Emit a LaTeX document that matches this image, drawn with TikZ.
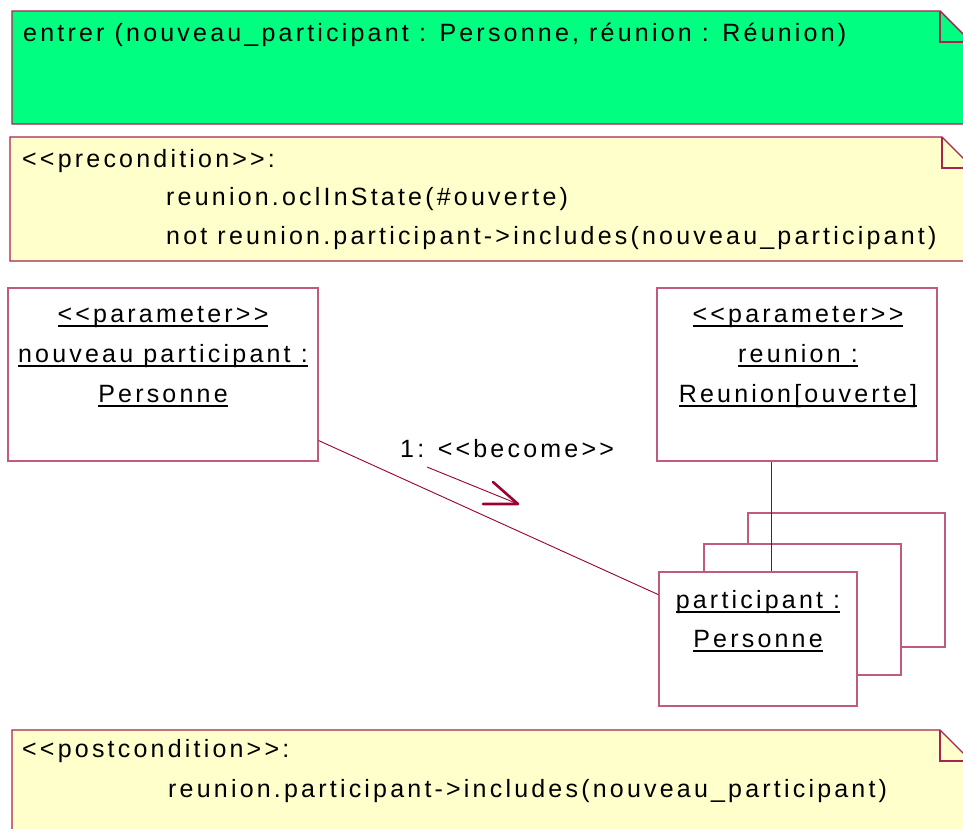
\documentclass[tikz,border=0pt]{standalone}
\usepackage{fontspec}
\newfontfamily\umlfont{Liberation Sans}[LetterSpace=12.8,Ligatures=TeXOff]
\usetikzlibrary{calc}
\definecolor{notegreen}{HTML}{00FF80}
\definecolor{noteyellow}{HTML}{FFFFCC}
\definecolor{noteedge}{HTML}{A8234F}
\definecolor{objedge}{HTML}{C25A80}
\definecolor{linkred}{HTML}{990033}
% underlined object name with a firm rule
\newcommand\ulname[1]{\setbox0\hbox{#1}\rlap{\rule[-4.5pt]{\wd0}{1.5pt}}\box0}
\tikzset{
  txt/.style={font=\umlfont\fontsize{25}{39}\selectfont, inner sep=0pt, text=black},
  notepath/.style={draw=noteedge, line width=1.4pt, line join=miter},
  foldline/.style={draw=noteedge, line width=1.4pt},
  objbox/.style={draw=objedge, line width=1.3pt, fill=white, inner sep=0pt},
  link/.style={draw=linkred, line width=0.9pt},
  barb/.style={draw=linkred, line width=2.6pt, line cap=round, line join=round}
}
\begin{document}
\begin{tikzpicture}[x=1pt,y=-1pt]
\useasboundingbox (0,0) rectangle (963,828);
\clip (0,0) rectangle (963,828);
\fill[white] (0,0) rectangle (963,828);

% operation note
\path[notepath, fill=notegreen] (12,11) -- (940,11) -- (970,41) -- (970,124) -- (12,124) -- cycle;
\path[foldline] (940,11) -- (940,42) -- (970,42);
\node[txt, anchor=base west] (oper) at (23,41) {entrer (nouveau\_participant : Personne, réunion : Réunion)};

% precondition note
\path[notepath, fill=noteyellow] (10,137) -- (942,137) -- (972,167) -- (972,261) -- (10,261) -- cycle;
\path[foldline] (942,137) -- (942,168) -- (972,168);
\node[txt, anchor=base west] (pre1) at (22,167) {<<precondition>>:};
\node[txt, anchor=base west] (pre2) at (166,205) {reunion.oclInState(\#ouverte)};
\node[txt, anchor=base west] (pre3) at (166,244) {not reunion.participant->includes(nouveau\_participant)};

% postcondition note
\path[notepath, fill=noteyellow] (12,730) -- (940,730) -- (970,760) -- (970,850) -- (12,850) -- cycle;
\path[foldline] (940,730) -- (940,761) -- (970,761);
\node[txt, anchor=base west] (post1) at (22,757) {<<postcondition>>:};
\node[txt, anchor=base west] (post2) at (168,797) {reunion.participant->includes(nouveau\_participant)};

% parameter objects
\node[objbox, minimum width=310pt, minimum height=173pt] (pa) at (163,374.5) {};
\node[txt, anchor=base] (pa1) at (163,322) {\ulname{<<parameter>>}};
\node[txt, anchor=base] (pa2) at (163,362) {\ulname{nouveau participant :}};
\node[txt, anchor=base] (pa3) at (163,402) {\ulname{Personne}};

\node[objbox, minimum width=280pt, minimum height=173pt] (pr) at (797,374.5) {};
\node[txt, anchor=base] (pr1) at (798,322) {\ulname{<<parameter>>}};
\node[txt, anchor=base] (pr2) at (798,362) {\ulname{reunion :}};
\node[txt, anchor=base] (pr3) at (798,402) {\ulname{Reunion[ouverte]}};

% multi-object participant stack
\node[objbox, minimum width=197pt, minimum height=134pt] (pb3) at (846.5,580) {};
\node[objbox, minimum width=197pt, minimum height=131pt] (pb2) at (802.5,609.5) {};
\node[objbox, minimum width=198pt, minimum height=134pt] (part) at (758,639) {};
\node[txt, anchor=base] (part1) at (758,608) {\ulname{participant :}};
\node[txt, anchor=base] (part2) at (758,647) {\ulname{Personne}};

% links
\draw[link] (pa.-23.8) -- (part.156);
\draw[link] ([xshift=-26pt]pr.south) -- ([xshift=13pt]part.north);

% message
\coordinate (m1) at (427,467);
\coordinate (m2) at (518,504);
\draw[link] (m1) -- (m2);
\draw[barb] ($(m2)+(-35,0)$) -- (m2) -- ($(m2)+(-25,-22)$);
\node[txt, anchor=base west] (msg) at (400,457) {1: <<become>>};
\end{tikzpicture}
\end{document}
